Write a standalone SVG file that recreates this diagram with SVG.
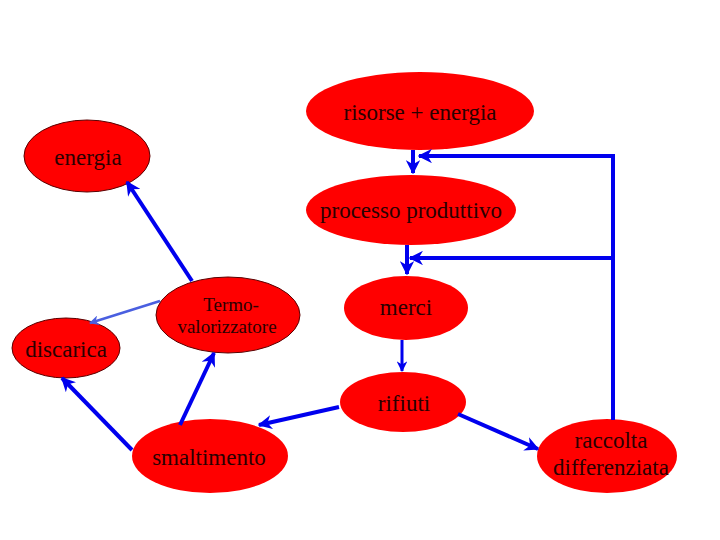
<svg xmlns="http://www.w3.org/2000/svg" width="720" height="540" viewBox="0 0 720 540">
<defs>
<style>
.n{fill:#ff0000;}
.s{stroke:#5a0000;stroke-width:1;}
.t{font-family:"Liberation Serif","Times New Roman",serif;font-size:23px;fill:#2a0000;text-anchor:middle;}
.tm{font-size:19px;}
.c{stroke:#0000ee;stroke-width:4;fill:none;}
.c3{stroke:#0000ee;stroke-width:3;fill:none;}
.lt{stroke:#4a5fe0;stroke-width:2.5;fill:none;}
</style>
<marker id="a" viewBox="0 0 10 10" refX="9" refY="5" markerWidth="3.6" markerHeight="3.6" orient="auto" markerUnits="strokeWidth">
<path d="M0,0 L10,5 L0,10 L3,5 z" fill="#0000ee"/>
</marker>
<marker id="al" viewBox="0 0 10 10" refX="9" refY="5" markerWidth="4" markerHeight="4" orient="auto" markerUnits="strokeWidth">
<path d="M0,0 L10,5 L0,10 L3,5 z" fill="#4a5fe0"/>
</marker>
</defs>
<rect width="720" height="540" fill="#ffffff"/>

<g id="risorse">
<ellipse class="n" cx="420" cy="111" rx="114" ry="39"/>
<text class="t" x="420" y="120">risorse + energia</text>
</g>
<g id="energia">
<ellipse class="n s" cx="87" cy="156" rx="63" ry="36"/>
<text class="t" x="88" y="165">energia</text>
</g>
<g id="processo">
<ellipse class="n" cx="411" cy="210" rx="105" ry="35"/>
<text class="t" x="411" y="218">processo produttivo</text>
</g>
<g id="termo">
<ellipse class="n s" cx="228" cy="315" rx="72" ry="38"/>
<text class="t tm" x="231" y="311">Termo-</text>
<text class="t tm" x="227" y="333">valorizzatore</text>
</g>
<g id="merci">
<ellipse class="n" cx="406" cy="308" rx="62" ry="32"/>
<text class="t" x="406" y="315">merci</text>
</g>
<g id="discarica">
<ellipse class="n s" cx="66" cy="348" rx="54" ry="30"/>
<text class="t" x="66" y="357">discarica</text>
</g>
<g id="rifiuti">
<ellipse class="n" cx="403" cy="402" rx="63" ry="30"/>
<text class="t" x="404" y="411">rifiuti</text>
</g>
<g id="smaltimento">
<ellipse class="n" cx="210" cy="456" rx="78" ry="37"/>
<text class="t" x="209" y="465">smaltimento</text>
</g>
<g id="raccolta">
<ellipse class="n" cx="607" cy="456" rx="70" ry="37"/>
<text class="t" x="611" y="448">raccolta</text>
<text class="t" x="611" y="475">differenziata</text>
</g>

<g id="connectors">
<line class="c" x1="413" y1="150" x2="413" y2="173" marker-end="url(#a)"/>
<polyline class="c" points="613,420 613,156 419,156" marker-end="url(#a)"/>
<polyline class="c" points="613,258 410,258" marker-end="url(#a)"/>
<line class="c" x1="407" y1="245" x2="407" y2="274" marker-end="url(#a)"/>
<line class="c3" x1="402" y1="340" x2="402" y2="371" marker-end="url(#a)"/>
<line class="c" x1="339" y1="407" x2="259" y2="425" marker-end="url(#a)"/>
<line class="c" x1="458" y1="414" x2="538" y2="449" marker-end="url(#a)"/>
<line class="c" x1="180" y1="425" x2="214" y2="353" marker-end="url(#a)"/>
<line class="c" x1="132" y1="450" x2="62" y2="378" marker-end="url(#a)"/>
<line class="c" x1="192" y1="281" x2="127" y2="182" marker-end="url(#a)"/>
<line class="lt" x1="160" y1="301" x2="90" y2="323" marker-end="url(#al)"/>
</g>
</svg>
